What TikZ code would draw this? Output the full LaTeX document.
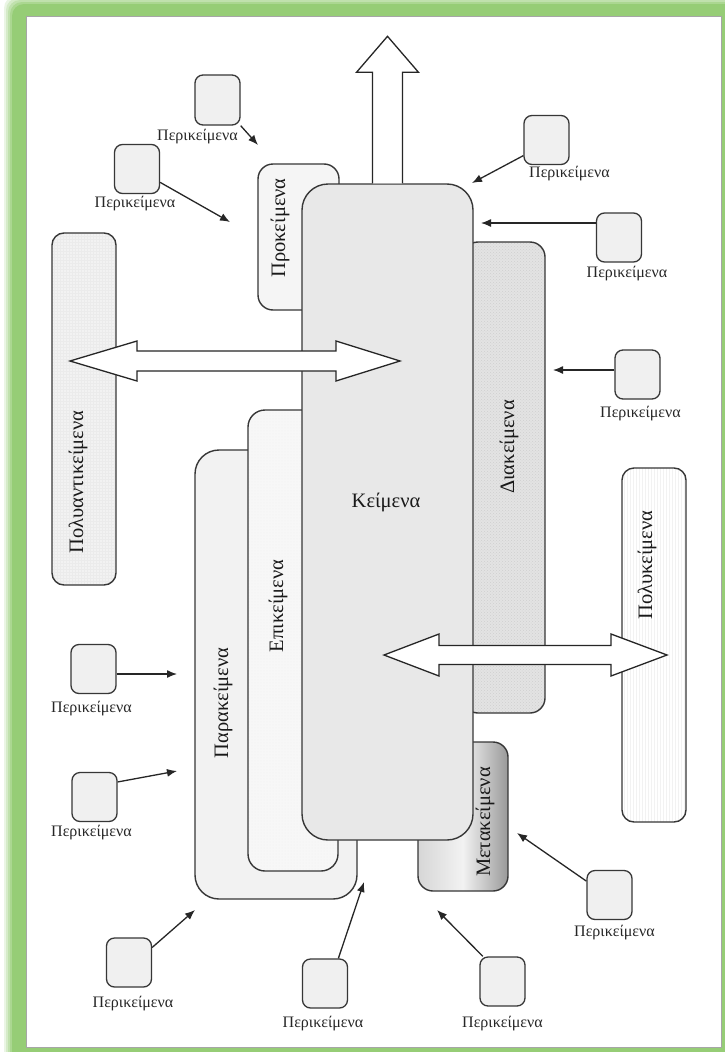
\documentclass[tikz,border=0pt]{standalone}
\usepackage{fontspec}
\setmainfont{Liberation Serif}
\usepackage{tikz}
\usetikzlibrary{arrows.meta,positioning,patterns}

\definecolor{framegreen}{RGB}{150,205,118}
\definecolor{boxline}{RGB}{55,55,55}

\begin{document}
\begin{tikzpicture}[x=1pt, y=-1pt,
        bigbox/.style={rectangle, draw=boxline, line width=1.4pt, rounded corners=#1, inner sep=0pt},
        bigbox/.default=15pt,
        biglbl/.style={font=\fontsize{20.5}{22}\selectfont, text=black!90, inner sep=0pt},
        vlbl/.style={biglbl, rotate=90},
        peribox/.style={rectangle, draw=boxline, line width=1.3pt, fill=black!6, rounded corners=8pt, minimum width=45pt, minimum height=49pt, inner sep=0pt},
        perilbl/.style={font=\fontsize{16}{18}\selectfont, text=black!85, inner sep=1pt},
        arrow/.style={-{Latex[length=10pt,width=8pt]}, line width=1.3pt, black!85},
        blockarrow/.style={draw=black!85, fill=white, line width=1.3pt, line join=miter}
    ]
        \useasboundingbox (0,0) rectangle (724,1052);

        % Frame
        \foreach \k [evaluate=\k as \pct using int(20+20*\k)] in {0,...,4}
            \fill[framegreen!\pct, rounded corners=12pt] ({4+2*\k},{-4+2*\k}) rectangle (760,1080);
        \draw[black!35, fill=white, line width=0.8pt] (26,16) rectangle (721,1047);

        % Blocks
        \node[bigbox=12pt, preaction={fill=black!5}, pattern=grid, pattern color=black!8, minimum width=64, minimum height=352] (polyant) at (84,409) {};
        \node[bigbox=24pt, fill=black!5, minimum width=162, minimum height=449] (para) at (276,674.5) {};
        \node[bigbox=17pt, preaction={fill=black!3}, pattern=dots, pattern color=black!6, minimum width=90, minimum height=461] (epi) at (293,640.5) {};
        \node[bigbox, fill=black!4, minimum width=81, minimum height=146] (pro) at (298.5,237) {};
        \node[bigbox, preaction={fill=black!11}, pattern=crosshatch dots, pattern color=black!19, minimum width=82, minimum height=471] (dia) at (504,477.5) {};
        \node[bigbox, left color=black!16, right color=black!40, middle color=black!5, minimum width=90, minimum height=149] (meta) at (463,816.5) {};
        \node[bigbox=26pt, fill=black!9, minimum width=171, minimum height=656] (kei) at (387.5,512) {};
        \node[bigbox=12pt, preaction={fill=white}, pattern=vertical lines, pattern color=black!5, minimum width=64, minimum height=354] (polyk) at (654,645) {};

        % Block arrows
        \draw[blockarrow] ([xshift=-15pt]kei.north) -- ++(0,-111) -- ++(-16,0) -- ++(31,-36) -- ++(31,36) -- ++(-16,0) -- ([xshift=15pt]kei.north);
        \draw[blockarrow] (70,361) -- (137,341) -- (137,351) -- (336,351) -- (336,341) -- (400,361) -- (336,381) -- (336,371) -- (137,371) -- (137,381) -- cycle;
        \draw[blockarrow] (384,655) -- (439,634) -- (439,645.5) -- (611,645.5) -- (611,634) -- (667,655) -- (611,676) -- (611,664.5) -- (439,664.5) -- (439,676) -- cycle;

        % Labels
        \node[biglbl] (keiLbl) at (386,502) {Κείμενα};
        \node[vlbl] (proLbl) at (280,228) {Προκείμενα};
        \node[vlbl] (diaLbl) at (509,447) {Διακείμενα};
        \node[vlbl] (polykLbl) at (647,565) {Πολυκείμενα};
        \node[vlbl] (polyantLbl) at (78,482) {Πολυαντικείμενα};
        \node[vlbl] (epiLbl) at (278,606) {Επικείμενα};
        \node[vlbl] (paraLbl) at (223,703) {Παρακείμενα};
        \node[vlbl] (metaLbl) at (485,822) {Μετακείμενα};

        % Surrounding texts
        \node[peribox, minimum height=50pt] (p1) at (217.5,100) {};
        \node[peribox] (p2) at (137,169) {};
        \node[peribox] (p3) at (546.5,140) {};
        \node[peribox] (p4) at (619,237.5) {};
        \node[peribox] (p5) at (637.5,374.5) {};
        \node[peribox] (p6) at (93.5,669) {};
        \node[peribox] (p7) at (94.5,797) {};
        \node[peribox] (p8) at (129,962.5) {};
        \node[peribox] (p9) at (325,983.5) {};
        \node[peribox] (p10) at (502.5,981.5) {};
        \node[peribox] (p11) at (609.5,895) {};

        \node[perilbl, below=2pt of p1, xshift=-20pt] (p1t) {Περικείμενα};
        \node[perilbl, below=1pt of p2, xshift=-2pt] (p2t) {Περικείμενα};
        \node[perilbl, below=0pt of p3, xshift=23pt] (p3t) {Περικείμενα};
        \node[perilbl, below=2pt of p4, xshift=8pt] (p4t) {Περικείμενα};
        \node[perilbl, below=5pt of p5, xshift=3pt] (p5t) {Περικείμενα};
        \node[perilbl, below=6pt of p6, xshift=-2pt] (p6t) {Περικείμενα};
        \node[perilbl, below=2pt of p7, xshift=-3pt] (p7t) {Περικείμενα};
        \node[perilbl, below=7pt of p8, xshift=4pt] (p8t) {Περικείμενα};
        \node[perilbl, below=6pt of p9, xshift=-2pt] (p9t) {Περικείμενα};
        \node[perilbl, below=8pt of p10] (p10t) {Περικείμενα};
        \node[perilbl, below=4pt of p11, xshift=5pt] (p11t) {Περικείμενα};

        % Arrow ends
        \coordinate (t1) at (258,145);
        \coordinate (t2) at (230,222);
        \coordinate (t3) at (472,183);
        \coordinate (t4) at (481,223);
        \coordinate (t5) at (553,370);
        \coordinate (t6) at (177,674);
        \coordinate (t7) at (177,771);
        \coordinate (t8) at (195,910);
        \coordinate (t9) at (364,882);
        \coordinate (t10) at (437,910);
        \coordinate (t11) at (517,833);

        % Arrows
        \draw[arrow] (p1.south east) -- (t1);
        \draw[arrow] (p2.-30) -- (t2);
        \draw[arrow] (p3.-146) -- (t3);
        \draw[arrow] (p4.west |- t4) -- (t4);
        \draw[arrow] (p5.west |- t5) -- (t5);
        \draw[arrow] (p6.east |- t6) -- (t6);
        \draw[arrow] (p7.33) -- (t7);
        \draw[arrow] (p8.33) -- (t8);
        \draw[arrow] (p9.62) -- (t9);
        \draw[arrow] (p10.128) -- (t10);
        \draw[arrow] (p11.149) -- (t11);

    \end{tikzpicture}
\end{document}
